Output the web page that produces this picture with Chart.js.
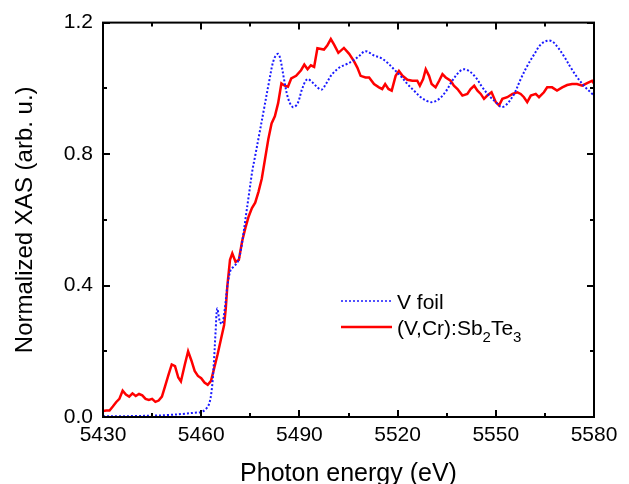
<!DOCTYPE html>
<html>
<head>
<meta charset="utf-8">
<script src="https://cdn.jsdelivr.net/npm/chart.js@4/dist/chart.umd.min.js"></script>
<style>
  html, body { margin: 0; padding: 0; background: #fff; }
  #wrap { width: 629px; height: 484px; }
</style>
</head>
<body>
<div id="wrap"><canvas id="xas" width="629" height="484"></canvas></div>
<script>
// axis ticks
var xTicks = [5430, 5460, 5490, 5520, 5550, 5580];
var yTicks = [0.0, 0.4, 0.8, 1.2];
var seriesNames = ['V foil', '(V,Cr):Sb_2Te_3'];

// V foil reference (dotted blue)
var foilEnergy = [5430, 5435, 5440, 5445, 5450, 5455, 5458, 5460, 5461.5, 5462.5, 5463.3, 5463.9, 5464.4, 5464.9,
  5465.7, 5466.4, 5467.2, 5468, 5469, 5470, 5471.2, 5472.1, 5472.9, 5473.6, 5474.6, 5475.6, 5476.5, 5477.7,
  5479.2, 5480.7, 5482.2, 5483.5, 5484.3, 5485.3, 5486.6, 5488, 5489.4, 5490.9, 5492.4, 5494, 5495.5, 5496.8,
  5498.2, 5500, 5502.3, 5504.5, 5506.5, 5508.2, 5510.2, 5512.8, 5514.8, 5516.9, 5518.9, 5520.9, 5523, 5525,
  5527.1, 5529.1, 5530.6, 5532.7, 5534.7, 5536.7, 5538.8, 5540.3, 5541.8, 5543.9, 5545.9, 5547.9, 5550,
  5551.8, 5553.5, 5555.6, 5557.6, 5559.6, 5561.7, 5563.7, 5565.7, 5567.2, 5568.7, 5570.8, 5572.9, 5574.9,
  5576.9, 5579.5, 5580];
var foilXas = [0.002, 0.002, 0.003, 0.004, 0.006, 0.010, 0.013, 0.015, 0.025, 0.042, 0.090, 0.170, 0.260, 0.330,
  0.290, 0.283, 0.328, 0.398, 0.448, 0.458, 0.473, 0.508, 0.558, 0.608, 0.678, 0.748, 0.795, 0.858,
  0.938, 1.018, 1.088, 1.105, 1.083, 1.028, 0.968, 0.943, 0.953, 1.000, 1.028, 1.018, 1.003, 0.996,
  1.015, 1.043, 1.064, 1.074, 1.085, 1.098, 1.113, 1.100, 1.093, 1.078, 1.058, 1.038, 1.013, 0.993,
  0.973, 0.961, 0.958, 0.968, 0.990, 1.023, 1.050, 1.058, 1.053, 1.033, 1.003, 0.978, 0.958,
  0.943, 0.953, 0.983, 1.028, 1.068, 1.103, 1.133, 1.145, 1.143, 1.128, 1.098, 1.063, 1.033,
  1.008, 0.983, 0.980];

// (V,Cr):Sb2Te3 sample (solid red)
var vcrEnergy = [5430, 5431, 5432, 5433, 5434, 5435, 5436, 5437, 5438, 5439, 5440, 5441, 5442, 5443, 5444, 5445,
  5446, 5447, 5448, 5449, 5450, 5451, 5452, 5453, 5453.8, 5455, 5456, 5457, 5458, 5459, 5460, 5461, 5462,
  5463, 5464, 5465, 5466, 5467, 5467.5, 5468, 5468.8, 5469.5, 5470.5, 5471.5, 5472.5, 5473.5, 5474.5,
  5475.5, 5476.5, 5477.5, 5478.5, 5479.5, 5480.5, 5481.5, 5482.5, 5483.5, 5484.5, 5485.5, 5486.5, 5487.5,
  5489, 5490.5, 5491.5, 5492.5, 5493.5, 5494.5, 5495.5, 5497.5, 5498.5, 5499.6, 5500.6, 5501.9, 5503.6,
  5505.2, 5506.7, 5507.7, 5508.7, 5510.2, 5511.3, 5512.8, 5514.3, 5515.3, 5516.2, 5517.2, 5518.2, 5519.4,
  5520.4, 5521.5, 5523, 5524.5, 5526, 5526.8, 5527.8, 5528.6, 5529.6, 5530.4, 5531.6, 5532.7, 5533.7,
  5534.7, 5536.2, 5537.2, 5538.3, 5539.8, 5541.3, 5542.3, 5543.4, 5544.4, 5545.4, 5546.4, 5547.4, 5548.7,
  5550, 5551, 5552, 5553.5, 5555.1, 5556.6, 5557.6, 5558.6, 5559.6, 5560.7, 5562.2, 5563.2, 5564.7,
  5565.7, 5567.2, 5568.7, 5570.3, 5571.8, 5573.3, 5574.8, 5576.4, 5577.9, 5579.4, 5580];
var vcrXas = [0.018, 0.020, 0.020, 0.032, 0.045, 0.055, 0.080, 0.068, 0.062, 0.072, 0.064, 0.070, 0.066, 0.055, 0.052, 0.055,
  0.046, 0.050, 0.062, 0.095, 0.128, 0.160, 0.155, 0.120, 0.108, 0.160, 0.200, 0.172, 0.140, 0.125, 0.118, 0.105, 0.098,
  0.110, 0.150, 0.190, 0.235, 0.280, 0.330, 0.400, 0.478, 0.498, 0.472, 0.478, 0.535, 0.575, 0.610,
  0.636, 0.652, 0.685, 0.725, 0.785, 0.845, 0.893, 0.915, 0.955, 1.015, 1.008, 1.005, 1.030,
  1.038, 1.055, 1.072, 1.058, 1.070, 1.065, 1.122, 1.118, 1.130, 1.150, 1.133, 1.108, 1.123,
  1.105, 1.082, 1.063, 1.038, 1.033, 1.033, 1.013, 1.003, 0.998, 1.013, 0.998, 0.993, 1.038,
  1.053, 1.038, 1.026, 1.023, 1.023, 1.008, 1.028, 1.058, 1.038, 1.013, 1.003, 1.023, 1.043,
  1.033, 1.023, 1.008, 0.998, 0.978, 0.983, 0.998, 1.008, 0.993, 0.983, 0.968, 0.978, 0.988,
  0.958, 0.948, 0.968, 0.973, 0.983, 0.988, 0.983, 0.973, 0.958, 0.978, 0.983, 0.973, 0.988,
  1.003, 1.003, 0.993, 1.003, 1.010, 1.013, 1.013, 1.008, 1.016, 1.023, 1.015];

var FONT = '"Liberation Sans", Arial, Helvetica, sans-serif';
var BLUE = 'rgb(25,25,255)';
var RED = 'rgb(255,0,0)';

function pairs(xs, ys) {
  return xs.map(function (x, i) { return { x: x, y: ys[i] }; });
}

function midpoints(vals) {
  var out = [];
  for (var i = 0; i < vals.length - 1; i++) out.push((vals[i] + vals[i + 1]) / 2);
  return out;
}

// box frame with inward ticks on all four sides
var frameTicks = {
  id: 'frameTicks',
  afterDraw: function (chart) {
    var ctx = chart.ctx, a = chart.chartArea;
    var xs = chart.scales.x, ys = chart.scales.y;
    ctx.save();
    ctx.strokeStyle = '#000';
    ctx.lineWidth = 2;
    ctx.strokeRect(a.left, a.top, a.right - a.left, a.bottom - a.top);
    ctx.beginPath();
    function xt(v, len) {
      var p = Math.round(xs.getPixelForValue(v));
      ctx.moveTo(p, a.bottom); ctx.lineTo(p, a.bottom - len);
      ctx.moveTo(p, a.top); ctx.lineTo(p, a.top + len);
    }
    function yt(v, len) {
      var p = Math.round(ys.getPixelForValue(v));
      ctx.moveTo(a.left, p); ctx.lineTo(a.left + len, p);
      ctx.moveTo(a.right, p); ctx.lineTo(a.right - len, p);
    }
    xTicks.forEach(function (v) { xt(v, 7); });
    midpoints(xTicks).forEach(function (v) { xt(v, 4); });
    yTicks.forEach(function (v) { yt(v, 7); });
    midpoints(yTicks).forEach(function (v) { yt(v, 4); });
    ctx.stroke();
    ctx.restore();
  }
};

// draw "Sb_2Te_3" style text with subscripts
function drawRich(ctx, text, x, y, size) {
  var parts = text.split(/(_\d)/);
  parts.forEach(function (p) {
    if (!p) return;
    if (p.charAt(0) === '_') {
      ctx.font = Math.round(size * 0.7) + 'px ' + FONT;
      ctx.fillText(p.slice(1), x, y + size * 0.38);
      x += ctx.measureText(p.slice(1)).width;
    } else {
      ctx.font = size + 'px ' + FONT;
      ctx.fillText(p, x, y);
      x += ctx.measureText(p).width;
    }
  });
}

var legendBox = {
  id: 'legendBox',
  afterDraw: function (chart) {
    var ctx = chart.ctx;
    var x0 = 341, x1 = 392, tx = 397, rows = [301, 327];
    ctx.save();
    chart.data.datasets.forEach(function (ds, i) {
      ctx.beginPath();
      ctx.strokeStyle = ds.borderColor;
      ctx.lineWidth = i === 0 ? 1.5 : 2.5;
      ctx.setLineDash(ds.borderDash || []);
      ctx.moveTo(x0, rows[i]); ctx.lineTo(x1, rows[i]);
      ctx.stroke();
      ctx.setLineDash([]);
      ctx.fillStyle = '#000';
      ctx.textBaseline = 'alphabetic';
      drawRich(ctx, seriesNames[i], tx, rows[i] + 7.5, 21);
    });
    ctx.restore();
  }
};

var ctx = document.getElementById('xas').getContext('2d');
new Chart(ctx, {
  type: 'line',
  data: {
    datasets: [{
      label: seriesNames[0],
      data: pairs(foilEnergy, foilXas),
      borderColor: BLUE,
      borderWidth: 2,
      borderDash: [2, 2],
      pointRadius: 0,
      tension: 0.35,
      fill: false
    }, {
      label: seriesNames[1],
      data: pairs(vcrEnergy, vcrXas),
      borderColor: RED,
      borderWidth: 2.5,
      pointRadius: 0,
      tension: 0,
      fill: false
    }]
  },
  options: {
    responsive: false,
    animation: false,
    layout: { padding: { left: 0, right: 35, top: 16, bottom: 0 } },
    plugins: { legend: { display: false }, tooltip: { enabled: false } },
    scales: {
      x: {
        type: 'linear',
        min: 5430,
        max: 5580,
        afterBuildTicks: function (scale) { scale.ticks = xTicks.map(function (v) { return { value: v }; }); },
        afterFit: function (scale) { scale.height = 67; },
        grid: { display: false, drawTicks: false },
        border: { display: false },
        ticks: {
          padding: 6, color: '#000', maxRotation: 0, autoSkip: false, font: { family: FONT, size: 21 },
          callback: function (v) { return String(v); }
        },
        title: { display: true, text: 'Photon energy (eV)', color: '#000', padding: { top: 0, bottom: -3 }, font: { family: FONT, size: 25, lineHeight: 1 } }
      },
      y: {
        type: 'linear',
        min: 0,
        max: 1.2,
        afterBuildTicks: function (scale) { scale.ticks = yTicks.map(function (v) { return { value: v }; }); },
        afterFit: function (scale) { scale.width = 103; },
        grid: { display: false, drawTicks: false },
        border: { display: false },
        ticks: {
          padding: 10, color: '#000', font: { family: FONT, size: 21 },
          callback: function (v) { return Number(v).toFixed(1); }
        },
        title: { display: true, text: 'Normalized XAS (arb. u.)', color: '#000', padding: { top: 13, bottom: 0 }, font: { family: FONT, size: 24, lineHeight: 1 } }
      }
    }
  },
  plugins: [frameTicks, legendBox]
});
</script>
</body>
</html>
